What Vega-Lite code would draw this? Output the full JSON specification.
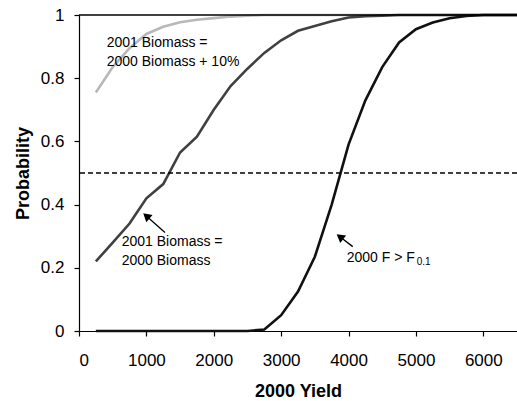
{
  "$schema": "https://vega.github.io/schema/vega-lite/v6.json",
  "width": 438,
  "height": 316,
  "autosize": {"type": "none"},
  "padding": {"left": 79, "top": 15, "right": 0, "bottom": 70},
  "config": {
    "font": "Liberation Sans",
    "view": {"stroke": null},
    "axis": {
      "grid": false,
      "domainColor": "black",
      "tickColor": "black",
      "labelColor": "black",
      "titleColor": "black",
      "labelFontSize": 17,
      "titleFontSize": 18,
      "titleFontWeight": "bold",
      "tickSize": 5,
      "domainWidth": 1.2,
      "tickWidth": 1.2
    }
  },
  "datasets": {
    "curves": [
      {"series": "B10", "x": 250, "p": 0.755},
      {"series": "B10", "x": 500, "p": 0.835},
      {"series": "B10", "x": 750, "p": 0.895},
      {"series": "B10", "x": 1000, "p": 0.94},
      {"series": "B10", "x": 1250, "p": 0.963},
      {"series": "B10", "x": 1500, "p": 0.977},
      {"series": "B10", "x": 1750, "p": 0.985},
      {"series": "B10", "x": 2000, "p": 0.99},
      {"series": "B10", "x": 2250, "p": 0.995},
      {"series": "B10", "x": 2500, "p": 0.998},
      {"series": "B10", "x": 2750, "p": 1},
      {"series": "B10", "x": 3000, "p": 1},
      {"series": "B10", "x": 3250, "p": 1},
      {"series": "B10", "x": 3500, "p": 1},
      {"series": "B10", "x": 3750, "p": 1},
      {"series": "B10", "x": 4000, "p": 1},
      {"series": "B10", "x": 4250, "p": 1},
      {"series": "B10", "x": 4500, "p": 1},
      {"series": "B10", "x": 4750, "p": 1},
      {"series": "B10", "x": 5000, "p": 1},
      {"series": "B10", "x": 5250, "p": 1},
      {"series": "B10", "x": 5500, "p": 1},
      {"series": "B10", "x": 5750, "p": 1},
      {"series": "B10", "x": 6000, "p": 1},
      {"series": "B10", "x": 6250, "p": 1},
      {"series": "B10", "x": 6500, "p": 1},
      {"series": "B", "x": 250, "p": 0.22},
      {"series": "B", "x": 500, "p": 0.28},
      {"series": "B", "x": 750, "p": 0.34},
      {"series": "B", "x": 1000, "p": 0.42},
      {"series": "B", "x": 1250, "p": 0.465},
      {"series": "B", "x": 1500, "p": 0.565},
      {"series": "B", "x": 1750, "p": 0.615},
      {"series": "B", "x": 2000, "p": 0.7},
      {"series": "B", "x": 2250, "p": 0.775},
      {"series": "B", "x": 2500, "p": 0.83},
      {"series": "B", "x": 2750, "p": 0.88},
      {"series": "B", "x": 3000, "p": 0.92},
      {"series": "B", "x": 3250, "p": 0.95},
      {"series": "B", "x": 3500, "p": 0.965},
      {"series": "B", "x": 3750, "p": 0.98},
      {"series": "B", "x": 4000, "p": 0.992},
      {"series": "B", "x": 4250, "p": 0.996},
      {"series": "B", "x": 4500, "p": 0.998},
      {"series": "B", "x": 4750, "p": 1},
      {"series": "B", "x": 5000, "p": 1},
      {"series": "B", "x": 5250, "p": 1},
      {"series": "B", "x": 5500, "p": 1},
      {"series": "B", "x": 5750, "p": 1},
      {"series": "B", "x": 6000, "p": 1},
      {"series": "B", "x": 6250, "p": 1},
      {"series": "B", "x": 6500, "p": 1},
      {"series": "F", "x": 250, "p": 0},
      {"series": "F", "x": 500, "p": 0},
      {"series": "F", "x": 750, "p": 0},
      {"series": "F", "x": 1000, "p": 0},
      {"series": "F", "x": 1250, "p": 0},
      {"series": "F", "x": 1500, "p": 0},
      {"series": "F", "x": 1750, "p": 0},
      {"series": "F", "x": 2000, "p": 0},
      {"series": "F", "x": 2250, "p": 0},
      {"series": "F", "x": 2500, "p": 0},
      {"series": "F", "x": 2750, "p": 0.005},
      {"series": "F", "x": 3000, "p": 0.05},
      {"series": "F", "x": 3250, "p": 0.125},
      {"series": "F", "x": 3500, "p": 0.235},
      {"series": "F", "x": 3750, "p": 0.4},
      {"series": "F", "x": 4000, "p": 0.59},
      {"series": "F", "x": 4250, "p": 0.73},
      {"series": "F", "x": 4500, "p": 0.835},
      {"series": "F", "x": 4750, "p": 0.913},
      {"series": "F", "x": 5000, "p": 0.955},
      {"series": "F", "x": 5250, "p": 0.976},
      {"series": "F", "x": 5500, "p": 0.99},
      {"series": "F", "x": 5750, "p": 0.997},
      {"series": "F", "x": 6000, "p": 1},
      {"series": "F", "x": 6250, "p": 1},
      {"series": "F", "x": 6500, "p": 1}
    ],
    "refs": [
      {"p": 0.5}
    ],
    "top": [
      {"p": 1}
    ],
    "arrows": [
      {"x": 1276, "p": 0.312, "x2": 999, "p2": 0.364, "angle": 311},
      {"x": 4062, "p": 0.267, "x2": 3872, "p2": 0.298, "angle": 308}
    ],
    "labels": [
      {"x": 411, "p": 0.91, "text": "2001 Biomass ="},
      {"x": 411, "p": 0.852, "text": "2000 Biomass + 10%"},
      {"x": 634, "p": 0.281, "text": "2001 Biomass ="},
      {"x": 634, "p": 0.222, "text": "2000 Biomass"},
      {"x": 3973, "p": 0.23, "text": "2000 F > F"}
    ],
    "subs": [
      {"x": 5012, "p": 0.219, "text": "0.1"}
    ]
  },
  "layer": [
    {
      "data": {"name": "curves"},
      "transform": [{"filter": "datum.series === 'B10'"}],
      "mark": {"type": "line", "color": "#b8b8b8", "strokeWidth": 2.6},
      "encoding": {
        "x": {"field": "x", "type": "quantitative", "scale": {"domain": [0, 6500], "nice": false},
              "axis": {"values": [0, 1000, 2000, 3000, 4000, 5000, 6000], "format": "d", "title": "2000 Yield", "labelPadding": 16, "titlePadding": 14}},
        "y": {"field": "p", "type": "quantitative", "scale": {"domain": [0, 1], "nice": false},
              "axis": {"values": [0, 0.2, 0.4, 0.6, 0.8, 1], "format": "~g", "title": "Probability", "labelPadding": 10, "titlePadding": 8}}
      }
    },
    {
      "data": {"name": "curves"},
      "transform": [{"filter": "datum.series === 'B'"}],
      "mark": {"type": "line", "color": "#404040", "strokeWidth": 2.6},
      "encoding": {
        "x": {"field": "x", "type": "quantitative"},
        "y": {"field": "p", "type": "quantitative"}
      }
    },
    {
      "data": {"name": "curves"},
      "transform": [{"filter": "datum.series === 'F'"}],
      "mark": {"type": "line", "color": "#111111", "strokeWidth": 2.6},
      "encoding": {
        "x": {"field": "x", "type": "quantitative"},
        "y": {"field": "p", "type": "quantitative"}
      }
    },
    {
      "data": {"name": "refs"},
      "mark": {"type": "rule", "color": "black", "strokeWidth": 1.6, "strokeDash": [5, 3]},
      "encoding": {"y": {"field": "p", "type": "quantitative"}}
    },
    {
      "data": {"name": "top"},
      "mark": {"type": "rule", "color": "black", "strokeWidth": 1.6},
      "encoding": {"y": {"field": "p", "type": "quantitative"}}
    },
    {
      "data": {"name": "arrows"},
      "mark": {"type": "rule", "color": "black", "strokeWidth": 1.3},
      "encoding": {
        "x": {"field": "x", "type": "quantitative"},
        "y": {"field": "p", "type": "quantitative"},
        "x2": {"field": "x2"},
        "y2": {"field": "p2"}
      }
    },
    {
      "data": {"name": "arrows"},
      "mark": {"type": "point", "shape": "triangle-up", "filled": true, "color": "black", "opacity": 1, "size": 90},
      "encoding": {
        "x": {"field": "x2", "type": "quantitative"},
        "y": {"field": "p2", "type": "quantitative"},
        "angle": {"field": "angle", "type": "quantitative", "scale": null}
      }
    },
    {
      "data": {"name": "labels"},
      "mark": {"type": "text", "align": "left", "baseline": "middle", "fontSize": 14, "color": "black"},
      "encoding": {
        "x": {"field": "x", "type": "quantitative"},
        "y": {"field": "p", "type": "quantitative"},
        "text": {"field": "text"}
      }
    },
    {
      "data": {"name": "subs"},
      "mark": {"type": "text", "align": "left", "baseline": "middle", "fontSize": 10, "color": "black"},
      "encoding": {
        "x": {"field": "x", "type": "quantitative"},
        "y": {"field": "p", "type": "quantitative"},
        "text": {"field": "text"}
      }
    }
  ]
}
